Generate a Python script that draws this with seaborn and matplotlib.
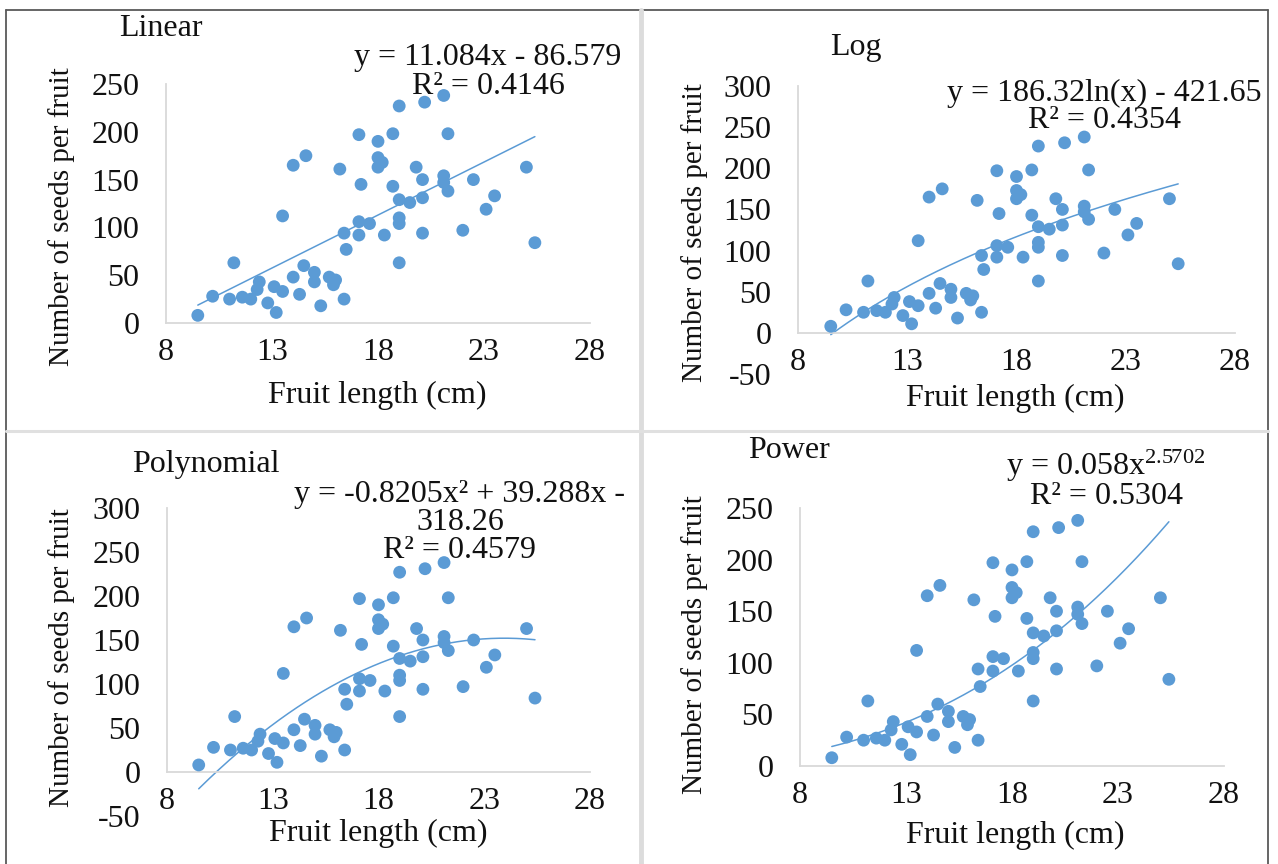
import numpy as np
import pandas as pd
import matplotlib
matplotlib.use("Agg")
import matplotlib.pyplot as plt
from matplotlib.lines import Line2D
import seaborn as sns

# Fruit length (cm) and number of seeds per fruit
fruit_length = [9.5, 10.2, 11.2, 11.0, 11.6, 12.0, 12.3, 12.4, 12.8, 13.2, 13.1, 13.5,
                13.5, 14.0, 14.6, 14.0, 14.3, 14.5, 15.0, 15.0, 15.3, 15.7, 16.0, 15.9,
                16.4, 16.2, 16.4, 16.5, 17.1, 17.2, 17.1, 17.1, 17.6, 18.0, 18.0, 18.2,
                18.0, 18.3, 18.7, 18.7, 19.0, 19.0, 19.0, 19.0, 19.0, 19.5, 19.8, 20.1,
                20.1, 20.1, 20.2, 21.1, 21.1, 21.1, 21.3, 21.3, 22.0, 22.5, 23.1, 23.5,
                25.0, 25.4]
seeds = [8, 28, 63, 25, 27, 25, 35, 43, 21, 11, 38, 33,
         112, 165, 175, 48, 30, 60, 53, 43, 18, 48, 45, 40,
         25, 161, 94, 77, 197, 145, 106, 92, 104, 190, 173, 168,
         163, 92, 198, 143, 227, 129, 110, 104, 63, 126, 163, 150,
         131, 94, 231, 238, 154, 147, 198, 138, 97, 150, 119, 133,
         163, 84]

# Fitted trend-line coefficients
linear_coef = (11.084, -86.579)
log_coef = (186.32, -421.65)
poly_coef = (-0.8205, 39.288, -318.26)
power_coef = (0.058, 2.5702)

panel_titles = ["Linear", "Log", "Polynomial", "Power"]
equations = [
    ["y = 11.084x - 86.579", "R² = 0.4146"],
    ["y = 186.32ln(x) - 421.65", "R² = 0.4354"],
    ["y = -0.8205x² + 39.288x -", "318.26", "R² = 0.4579"],
    [r"y = 0.058x$^{\mathrm{2.5702}}$", "R² = 0.5304"],
]
x_ticks = [8, 13, 18, 23, 28]
y_ticks_a = [0, 50, 100, 150, 200, 250]
y_ticks_b = [-50, 0, 50, 100, 150, 200, 250, 300]

sns.set_style("white")
plt.rcParams["font.family"] = ["Liberation Serif", "DejaVu Serif"]
plt.rcParams["mathtext.fontset"] = "custom"
plt.rcParams["mathtext.rm"] = "Liberation Serif"
plt.rcParams["mathtext.it"] = "Liberation Serif:italic"
plt.rcParams["axes.unicode_minus"] = False

BLUE = "#5B9BD5"
AXIS_GRAY = "#d9d9d9"
TXT = "#111111"
W, H = 1278, 864
TICK_FS = 23
TEXT_FS = 23

df = pd.DataFrame({"length": fruit_length, "seeds": seeds})
xfit = np.linspace(min(fruit_length), max(fruit_length), 200)
fits = [
    linear_coef[0] * xfit + linear_coef[1],
    log_coef[0] * np.log(xfit) + log_coef[1],
    poly_coef[0] * xfit ** 2 + poly_coef[1] * xfit + poly_coef[2],
    power_coef[0] * xfit ** power_coef[1],
]

fig = plt.figure(figsize=(W / 100, H / 100), dpi=100)

# axes frames in pixels: left, right, bottom, top ; y-limits
frames = [
    (166, 590, 323, 84, (0, 250), y_ticks_a),
    (798, 1235, 374, 86, (-50, 300), y_ticks_b),
    (167, 590, 816, 508, (-50, 300), y_ticks_b),
    (800, 1224, 766, 508, (0, 250), y_ticks_a),
]
title_pos = [(161, 28), (856, 47), (206, 464), (789, 451)]
eq_pos = [
    [(488, 57), (488, 86)],
    [(1104, 93), (1104, 120)],
    [(460, 494), (460, 523), (460, 551)],
    [(1106, 466), (1106, 496)],
]
xlabel_pos = [(377, 395), (1015, 398), (378, 833), (1015, 835)]
ylabel_pos = [(62, 217), (695, 233), (62, 658), (695, 645)]


def fx(px):
    return px / W


def fy(py):
    return 1 - py / H


for i, (l, r, b, t, ylim, yt) in enumerate(frames):
    ax = fig.add_axes([fx(l), fy(b), (r - l) / W, (b - t) / H])
    sns.scatterplot(data=df, x="length", y="seeds", ax=ax, color=BLUE,
                    s=85, edgecolor="none", linewidth=0, legend=False, zorder=3)
    sns.lineplot(x=xfit, y=fits[i], ax=ax, color=BLUE, linewidth=1.1,
                 legend=False, zorder=2)
    ax.set_xlim(8, 28)
    ax.set_ylim(*ylim)
    ax.set_xticks(x_ticks)
    ax.set_yticks(yt)
    ax.tick_params(length=0, labelsize=TICK_FS, colors=TXT)
    ax.tick_params(axis="y", pad=19)
    ax.tick_params(axis="x", pad=11)
    for side in ("top", "right"):
        ax.spines[side].set_visible(False)
    for side in ("left", "bottom"):
        ax.spines[side].set_color(AXIS_GRAY)
        ax.spines[side].set_linewidth(1.3)
    ax.spines["bottom"].set_position(("data", 0))
    ax.spines["left"].set_bounds(0, ylim[1])
    ax.set_xlabel("")
    ax.set_ylabel("")
    ax.patch.set_alpha(0)

    # axis titles
    xl = xlabel_pos[i]
    fig.text(fx(xl[0]), fy(xl[1]), "Fruit length (cm)", ha="center", va="center",
             fontsize=TEXT_FS, color=TXT)
    yl = ylabel_pos[i]
    fig.text(fx(yl[0]), fy(yl[1]), "Number of seeds per fruit", ha="center",
             va="center", rotation=90, fontsize=21, color=TXT)

    tp = title_pos[i]
    fig.text(fx(tp[0]), fy(tp[1]), panel_titles[i], ha="center", va="center",
             fontsize=TEXT_FS, color=TXT)
    for line, (ex, ey) in zip(equations[i], eq_pos[i]):
        fig.text(fx(ex), fy(ey), line, ha="center", va="center",
                 fontsize=TEXT_FS, color=TXT)

# panel frame and separators
frame_col = "#595959"
fig.add_artist(Line2D([fx(6), fx(1268)], [fy(10), fy(10)], color=frame_col, lw=1.3))
fig.add_artist(Line2D([fx(6), fx(6)], [fy(10), fy(864)], color=frame_col, lw=1.3))
fig.add_artist(Line2D([fx(1268), fx(1268)], [fy(10), fy(864)], color=frame_col, lw=1.3))
fig.add_artist(Line2D([fx(640.5), fx(640.5)], [fy(10), fy(864)], color="#dcdcdc", lw=3.5))
fig.add_artist(Line2D([fx(6), fx(1268)], [fy(431), fy(431)], color="#e0e0e0", lw=2.2))

fig.savefig("out.png", dpi=100)
